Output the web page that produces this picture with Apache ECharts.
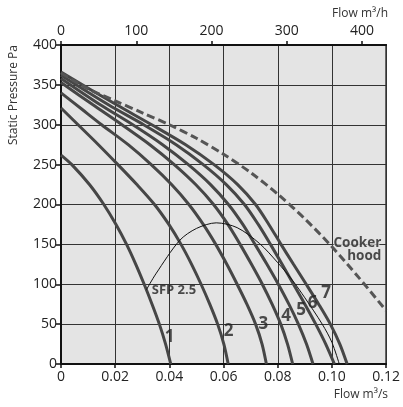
<!DOCTYPE html>
<html>
<head>
<meta charset="utf-8">
<script src="https://cdn.jsdelivr.net/npm/echarts@6/dist/echarts.min.js"></script>
<style>html,body{margin:0;padding:0;background:#fff}#c{width:403px;height:407px}</style>
</head>
<body>
<div id="c"></div>
<script>
// ---- data (flow m3/s, static pressure Pa) ----
const curve1 = [[0,262],[0.004,250],[0.0105,225],[0.0158,200],[0.0203,175],[0.0242,150],[0.0276,125],[0.0307,100],[0.0336,75],[0.0363,50],[0.0386,25],[0.0405,0]];
const curve2 = [[0,321],[0.0063,300],[0.0138,275],[0.021,250],[0.028,225],[0.0345,200],[0.0398,175],[0.0443,150],[0.0482,125],[0.0517,100],[0.0549,75],[0.0578,50],[0.0601,25],[0.0617,0]];
const curve3 = [[0,340],[0.0075,320],[0.015,300],[0.0248,275],[0.0333,250],[0.0408,225],[0.0472,200],[0.0525,175],[0.0571,150],[0.0612,125],[0.065,100],[0.0686,75],[0.0718,50],[0.0742,25],[0.0758,0]];
const curve4 = [[0,353],[0.0118,325],[0.0225,300],[0.0328,275],[0.0418,250],[0.0497,225],[0.0563,200],[0.0616,175],[0.0661,150],[0.0703,125],[0.0743,100],[0.0779,75],[0.0811,50],[0.0836,25],[0.0855,0]];
const curve5 = [[0,358],[0.0145,325],[0.0265,300],[0.0375,275],[0.047,250],[0.0552,225],[0.0618,200],[0.0671,175],[0.0716,150],[0.076,125],[0.0802,100],[0.0841,75],[0.0876,50],[0.0906,25],[0.093,0]];
const curve6 = [[0,362],[0.0175,325],[0.0305,300],[0.0425,275],[0.0525,250],[0.061,225],[0.0677,200],[0.0728,175],[0.0773,150],[0.0816,125],[0.0858,100],[0.09,75],[0.094,50],[0.0977,25],[0.1009,0]];
const curve7 = [[0,366],[0.0205,325],[0.0335,300],[0.046,275],[0.0565,250],[0.0652,225],[0.0718,200],[0.0767,175],[0.0812,150],[0.0858,125],[0.0905,100],[0.0951,75],[0.0994,50],[0.1029,25],[0.1056,0]];
const cookerHood = [[0,365],[0.01,345],[0.02,330],[0.03,315],[0.04,300],[0.05,283],[0.06,263],[0.07,240],[0.08,213],[0.09,182],[0.1,147],[0.11,108],[0.12,67]];
const sfp25 = [[0.0315,93],[0.035,113],[0.0438,155],[0.05,170],[0.0573,177],[0.065,171],[0.0733,151],[0.08,127],[0.0854,105],[0.09,83],[0.0964,50],[0.1,27],[0.1027,0]];

const curveNames = ['1','2','3','4','5','6','7'];
const curveLabelAnchors = [[0.0401,34],[0.0619,41],[0.0747,50],[0.0831,60],[0.0886,68],[0.0929,76],[0.0978,89]];
const sfpLabel = {text:'SFP 2.5', at:[0.0335,93]};
const hoodLabel = {text:'Cooker\nhood', at:[0.1182,144]};

const flowSTicks = {min:0, max:0.12, interval:0.02};
const flowHTicks = [0,100,200,300,400];
const flowHMax = 432;
const pressureTicks = {min:0, max:400, interval:50};

const axisNameX = 'Flow m³/s';
const axisNameTop = 'Flow m³/h';
const axisNameY = 'Static Pressure Pa';

// ---- chart ----
const FONT = "'Open Sans', 'DejaVu Sans', sans-serif";
const curves = [curve1,curve2,curve3,curve4,curve5,curve6,curve7];
const chart = echarts.init(document.getElementById('c'), null, {renderer:'canvas'});

const series = curves.map((d,i)=>({
  name: curveNames[i], type:'line', data:d, xAxisIndex:0, yAxisIndex:0,
  smooth:0.3, symbol:'none', silent:true,
  lineStyle:{color:'#464646', width:3}, z:3
}));
series.push({
  name:'Cooker hood', type:'line', data:cookerHood, smooth:0.3, symbol:'none',
  lineStyle:{color:'#555', width:3, type:[8,4]}, z:3
});
series.push({
  name:'SFP 2.5', type:'line', data:sfp25, smooth:0.3, symbol:'none',
  lineStyle:{color:'#111', width:1}, z:4
});
series.push({
  type:'scatter', symbolSize:0, silent:true, z:5,
  data: curveLabelAnchors.map((p,i)=>[p[0],p[1],curveNames[i]]),
  label:{show:true, position:'inside', formatter:p=>p.data[2], fontFamily:FONT, fontWeight:'bold', fontSize:17, color:'#222'}
});
series.push({
  type:'scatter', symbolSize:0, silent:true, z:5,
  data:[[sfpLabel.at[0], sfpLabel.at[1], sfpLabel.text]],
  label:{show:true, position:'right', distance:0, formatter:p=>p.data[2], fontFamily:FONT, fontWeight:'bold', fontSize:13, color:'#222'}
});
series.push({
  type:'scatter', symbolSize:0, silent:true, z:5,
  data:[[hoodLabel.at[0], hoodLabel.at[1], hoodLabel.text]],
  label:{show:true, position:'left', distance:0, align:'right', lineHeight:13, formatter:p=>p.data[2], fontFamily:FONT, fontWeight:'bold', fontSize:13.5, color:'#222', textBorderColor:'#e4e4e4', textBorderWidth:2}
});

chart.setOption({
  animation:false,
  backgroundColor:'#fff',
  grid:{left:61, right:15, top:45, bottom:43, show:true, backgroundColor:'#e4e4e4', borderColor:'#111', borderWidth:1.5, z:0},
  xAxis:[{
    type:'value', position:'bottom', min:flowSTicks.min, max:flowSTicks.max, interval:flowSTicks.interval,
    axisLine:{show:true, onZero:false, lineStyle:{color:'#111', width:2}},
    axisTick:{show:true, length:4, lineStyle:{color:'#111', width:1.5}},
    axisLabel:{margin:6, fontFamily:FONT, fontSize:14, color:'#222', formatter:v=> v===0?'0':v.toFixed(2)},
    splitLine:{show:true, lineStyle:{color:'#333', width:1}}
  },{
    type:'value', position:'top', min:0, max:flowHMax,
    axisLine:{show:true, onZero:false, lineStyle:{color:'#111', width:2}},
    axisTick:{show:true, length:4, customValues:flowHTicks, lineStyle:{color:'#111', width:1.5}},
    axisLabel:{margin:7, customValues:flowHTicks, fontFamily:FONT, fontSize:14, color:'#222'},
    splitLine:{show:false}
  }],
  yAxis:{
    type:'value', min:pressureTicks.min, max:pressureTicks.max, interval:pressureTicks.interval,
    axisLine:{show:true, lineStyle:{color:'#111', width:2}},
    axisTick:{show:true, length:5, lineStyle:{color:'#111', width:1.5}},
    axisLabel:{margin:4, fontFamily:FONT, fontSize:14, color:'#222'},
    splitLine:{show:true, lineStyle:{color:'#333', width:1}}
  },
  graphic:[
    {type:'text', x:388, y:14, style:{text:axisNameTop, align:'right', verticalAlign:'middle', font:'12px '+FONT, fill:'#333'}},
    {type:'text', x:388, y:395, style:{text:axisNameX, align:'right', verticalAlign:'middle', font:'12px '+FONT, fill:'#333'}},
    {type:'text', x:14, y:45, rotation:Math.PI/2, style:{text:axisNameY, align:'right', verticalAlign:'middle', font:'12px '+FONT, fill:'#333'}}
  ],
  series:series
});
</script>
</body>
</html>
